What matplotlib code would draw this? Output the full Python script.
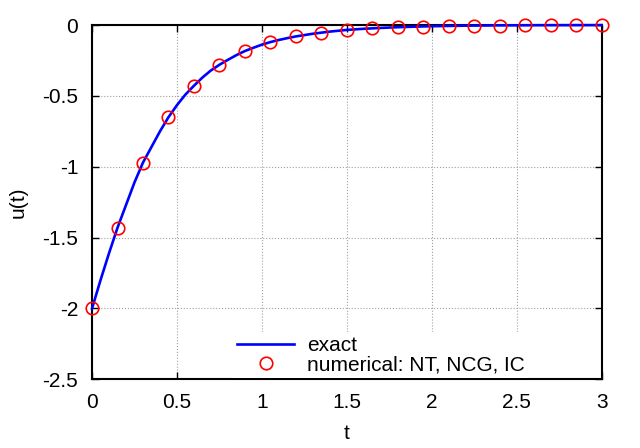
import matplotlib
matplotlib.use("Agg")
import matplotlib.pyplot as plt

# exact solution, values
t_exact = [0.0, 0.05, 0.1, 0.15, 0.2, 0.25, 0.3, 0.35, 0.4, 0.45, 0.5, 0.55,
           0.6, 0.65, 0.7, 0.75, 0.8, 0.85, 0.9, 0.95, 1.0, 1.05, 1.1, 1.15,
           1.2, 1.3, 1.4, 1.5, 1.6, 1.7, 1.8, 1.9, 2.0, 2.2, 2.4, 2.6, 2.8, 3.0]
u_exact = [-2.0, -1.80, -1.61, -1.43, -1.27, -1.11, -0.97, -0.86, -0.75, -0.65,
           -0.565, -0.49, -0.428, -0.37, -0.32, -0.28, -0.245, -0.212, -0.183,
           -0.16, -0.138, -0.12, -0.105, -0.092, -0.08, -0.061, -0.046, -0.034,
           -0.026, -0.02, -0.015, -0.011, -0.008, -0.004, -0.002, -0.001,
           -0.0005, -0.0002]

# numerical points (NT, NCG, IC)
t_num = [0.0, 0.15, 0.3, 0.45, 0.6, 0.75, 0.9, 1.05, 1.2, 1.35, 1.5, 1.65,
         1.8, 1.95, 2.1, 2.25, 2.4, 2.55, 2.7, 2.85, 3.0]
u_num = [-2.0, -1.432, -0.973, -0.649, -0.428, -0.28, -0.183, -0.12, -0.08,
         -0.054, -0.033, -0.023, -0.016, -0.01, -0.007, -0.004, -0.003,
         -0.002, -0.001, -0.001, -0.0005]

plt.rcParams['font.family'] = ['Liberation Sans', 'DejaVu Sans']
plt.rcParams['font.size'] = 15

fig = plt.figure(figsize=(6.4, 4.48), dpi=100)
ax = fig.add_axes([0.1438, 0.1533, 0.7962, 0.7907])

ax.plot(t_exact, u_exact, '-', color='#0000ff', lw=1.9, label='exact',
        clip_on=False, zorder=3)
ax.plot(t_num, u_num, 'o', mfc='none', mec='#ff0000', mew=1.2, ms=9,
        label='numerical: NT, NCG, IC', clip_on=False, zorder=4)

ax.set_xlim(0, 3)
ax.set_ylim(-2.5, 0)
ax.set_xticks([0, 0.5, 1, 1.5, 2, 2.5, 3])
ax.set_xticklabels(['0', '0.5', '1', '1.5', '2', '2.5', '3'])
ax.set_yticks([0, -0.5, -1, -1.5, -2, -2.5])
ax.set_yticklabels(['0', '-0.5', '-1', '-1.5', '-2', '-2.5'])
ax.tick_params(direction='in', length=5, width=1, top=True, right=True)
ax.tick_params(axis='y', pad=10)
ax.tick_params(axis='x', pad=10)
ax.grid(True, color='#a0a0a0', linestyle=':', lw=0.8)
for s in ax.spines.values():
    s.set_linewidth(1.5)

ax.set_xlabel('t')
ax.set_ylabel('u(t)')
ax.yaxis.set_label_coords((28 - 92) / 510.0, 0.5)
ax.xaxis.set_label_coords(0.5, -(424 - 379) / 355.0)

leg = ax.legend(loc='lower left', bbox_to_anchor=((232 - 92) / 510.0, 0.0),
                frameon=True, fancybox=False, numpoints=1, handlelength=2.74,
                handletextpad=0.63, labelspacing=0.0, borderpad=0.2,
                borderaxespad=0.05)
leg.get_frame().set_edgecolor('none')
leg.get_frame().set_facecolor('white')
leg.get_frame().set_alpha(1)

fig.savefig('out.png', dpi=100)
